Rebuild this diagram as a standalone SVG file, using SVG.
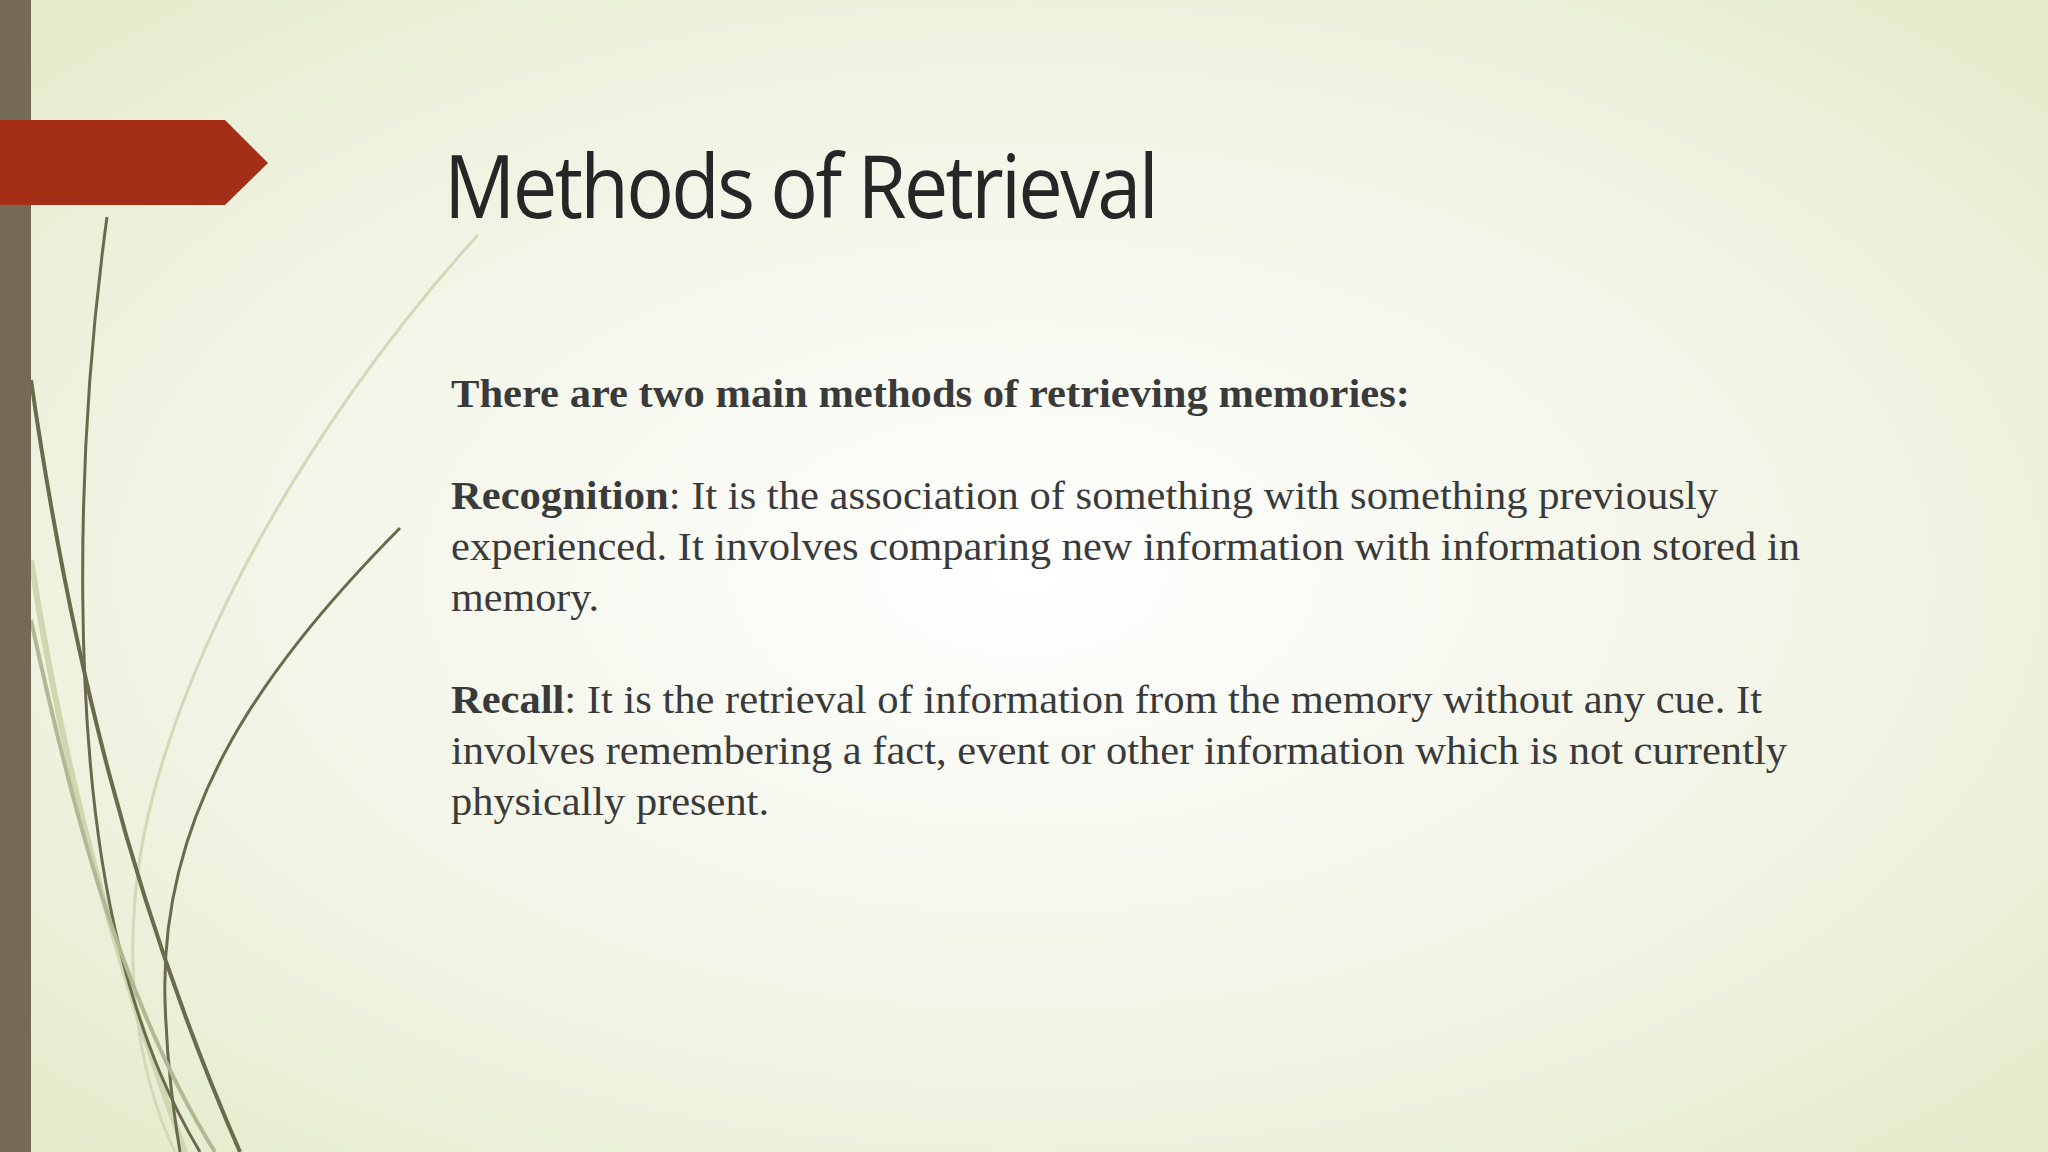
<svg xmlns="http://www.w3.org/2000/svg" width="2048" height="1152" viewBox="0 0 2048 1152">
<defs>
<radialGradient id="bg" cx="0.5" cy="0.5" r="0.75">
<stop offset="0" stop-color="#ffffff"/>
<stop offset="0.6" stop-color="#f0f3e2"/>
<stop offset="1" stop-color="#e1e9c4"/>
</radialGradient>
<style>
.b{font-family:"Liberation Serif",serif;font-size:40px;fill:#3a3a3a}
.c{fill:none}
</style>
</defs>
<rect width="2048" height="1152" fill="url(#bg)"/>
<g id="decor">
<path class="c" stroke="#d3d9b6" stroke-width="3" d="M478 235 C300 430 150 700 135 900 C125 1010 150 1100 175 1152"/>
<path class="c" stroke="#d0d6b0" stroke-width="6" d="M31 560 C60 750 110 950 185 1152"/>
<path class="c" stroke="#6b6a4c" stroke-width="3" d="M400 528 C250 680 160 820 165 1000 C167 1070 175 1120 180 1152"/>
<path class="c" stroke="#6b6a4c" stroke-width="3" d="M107 217 C75 450 70 750 120 950 C145 1050 175 1110 200 1152"/>
<path class="c" stroke="#6b6a4c" stroke-width="4" d="M31 380 C70 650 130 900 240 1152"/>
<path class="c" stroke="#b4b794" stroke-width="4" d="M31 620 C70 800 120 1000 215 1152"/>
<rect x="0" y="0" width="31" height="1152" fill="#756b55"/>
<polygon points="0,120 225,120 268,163 225,205 0,205" fill="#a52f16"/>
</g>
<g id="title">
<text x="444" y="218" font-family="Open Sans,sans-serif" font-size="88" fill="#262626" textLength="712" lengthAdjust="spacingAndGlyphs" letter-spacing="-3">Methods of Retrieval</text>
</g>
<g id="body">
<text class="b" x="451" y="407" font-weight="bold" textLength="959" lengthAdjust="spacingAndGlyphs">There are two main methods of retrieving memories:</text>
<text class="b" x="451" y="509" textLength="1267" lengthAdjust="spacingAndGlyphs"><tspan font-weight="bold">Recognition</tspan>: It is the association of something with something previously</text>
<text class="b" x="451" y="560" textLength="1349" lengthAdjust="spacingAndGlyphs">experienced. It involves comparing new information with information stored in</text>
<text class="b" x="451" y="611" textLength="148" lengthAdjust="spacingAndGlyphs">memory.</text>
<text class="b" x="451" y="713" textLength="1311" lengthAdjust="spacingAndGlyphs"><tspan font-weight="bold">Recall</tspan>: It is the retrieval of information from the memory without any cue. It</text>
<text class="b" x="451" y="764" textLength="1336" lengthAdjust="spacingAndGlyphs">involves remembering a fact, event or other information which is not currently</text>
<text class="b" x="451" y="815" textLength="318" lengthAdjust="spacingAndGlyphs">physically present.</text>
</g>
</svg>
